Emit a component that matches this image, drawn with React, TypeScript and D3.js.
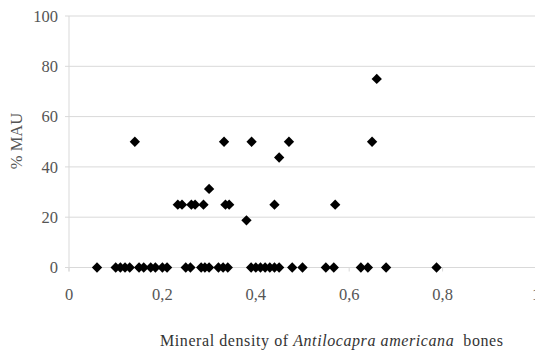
import React from "react";
import * as d3 from "d3";

const densityX: number[] = [
  0.06, 0.10, 0.11, 0.12, 0.13, 0.15, 0.16, 0.175, 0.185, 0.20, 0.21,
  0.25, 0.26, 0.283, 0.291, 0.30, 0.32, 0.33, 0.34, 0.39, 0.40,
  0.41, 0.42, 0.43, 0.44, 0.45, 0.478, 0.50, 0.55, 0.567, 0.625, 0.64, 0.679, 0.787,
  0.233, 0.242, 0.262, 0.27, 0.288, 0.335, 0.343, 0.44, 0.57,
  0.30, 0.38, 0.45,
  0.141, 0.332, 0.391, 0.471, 0.649,
  0.659,
];
const mauY: number[] = [
  0, 0, 0, 0, 0, 0, 0, 0, 0, 0, 0,
  0, 0, 0, 0, 0, 0, 0, 0, 0, 0,
  0, 0, 0, 0, 0, 0, 0, 0, 0, 0, 0, 0, 0,
  25, 25, 25, 25, 25, 25, 25, 25, 25,
  31.25, 18.75, 43.75,
  50, 50, 50, 50, 50,
  75,
];
const yTicks: number[] = [0, 20, 40, 60, 80, 100];
const xTicks: number[] = [0, 0.2, 0.4, 0.6, 0.8, 1];
const xTickLabels: string[] = ["0", "0,2", "0,4", "0,6", "0,8", "1"];

export default function App() {
  const W = 535, H = 355;
  const x = d3.scaleLinear().domain([0, 1]).range([69, 536]);
  const y = d3.scaleLinear().domain([0, 100]).range([267.5, 16]);
  const diamond = d3.symbol().type(d3.symbolDiamond2).size(68)();
  const ff = "Liberation Serif, DejaVu Serif, serif";
  const txt = "#555";
  const grid = "#d9d9d9";
  return (
    <svg width={W} height={H} style={{ position: "absolute", left: 0, top: 0, background: "#fff" }}>
      {yTicks.map((t) => (
        <g key={"y" + t}>
          <line x1={65} x2={535} y1={y(t)} y2={y(t)} stroke={grid} strokeWidth={1} />
          <text x={58} y={y(t)} dy="0.35em" textAnchor="end" fontSize={16.5} fill={txt} fontFamily={ff}>{t}</text>
        </g>
      ))}
      <line x1={x(0)} x2={x(0)} y1={y(100)} y2={y(0) + 4} stroke={grid} strokeWidth={1} />
      {xTicks.map((t, i) => (
        <g key={"x" + t}>
          <line x1={x(t)} x2={x(t)} y1={y(0)} y2={y(0) + 4} stroke={grid} strokeWidth={1} />
          <text x={x(t)} y={300} textAnchor="middle" fontSize={16.5} fill={txt} fontFamily={ff}>{xTickLabels[i]}</text>
        </g>
      ))}
      <text transform={`translate(22,141) rotate(-90)`} textAnchor="middle" fontSize={16.5} fill={txt} fontFamily={ff}>% MAU</text>
      <text x={160} y={346} fontSize={16} fill="#333" fontFamily={ff} textLength={343} lengthAdjust="spacing">
        Mineral density of <tspan fontStyle="italic">Antilocapra americana</tspan>{"\u00a0 bones"}
      </text>
      {densityX.map((v, i) => (
        <path key={"p" + i} d={diamond!} transform={`translate(${x(v)},${y(mauY[i])})`} fill="#000" />
      ))}
    </svg>
  );
}
